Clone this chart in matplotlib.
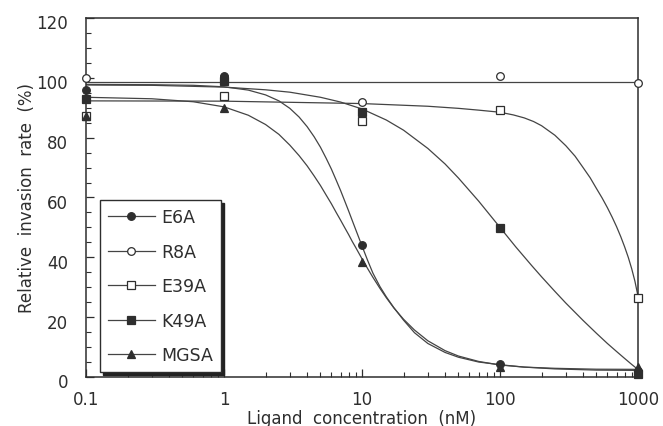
import matplotlib
matplotlib.use('Agg')
import matplotlib.pyplot as plt
import matplotlib.transforms as mtransforms
from matplotlib.lines import Line2D
from matplotlib.ticker import MultipleLocator, LogLocator, NullFormatter

plt.rcParams['font.family'] = ['DejaVu Sans']

# measured points
conc = [0.1, 1, 10, 100, 1000]
e6a = [96, 100.5, 44, 4.3, 2]
r8a = [100, 100.3, 92, 100.7, 98.3]
e39a = [87.3, 94, 85.6, 89.3, 26.4]
k49a = [93, 98.8, 88.6, 49.8, 1]
mgsa = [87.3, 90, 38.5, 3.3, 3.3]

# fitted curves
e6a_fit_x = [0.1, 0.3, 0.6, 1, 1.5, 2, 2.5, 3, 3.5, 4, 4.5, 5, 5.5, 6, 6.5, 7, 7.5, 8,
             8.5, 9, 10, 11, 12, 13.5, 15, 17, 20, 24, 30, 40, 50, 70, 100, 150, 250,
             500, 1000]
e6a_fit = [97.8, 97.7, 97.5, 97.0, 95.9, 94.3, 92.3, 89.8, 86.9, 83.7, 80.3, 76.8,
           73.1, 69.5, 65.8, 62.3, 58.8, 55.5, 52.3, 49.3, 43.8, 38.9, 34.7, 30.2,
           26.8, 23.2, 19.0, 14.8, 11.2, 8.2, 6.6, 5.0, 4.1, 3.3, 2.7, 2.3, 2.2]

mgsa_fit_x = e6a_fit_x
mgsa_fit = [93.5, 93.0, 92.0, 90.3, 87.5, 84.4, 81.1, 77.5, 74.0, 70.6, 67.2, 64.0,
            60.8, 57.9, 55.0, 52.4, 49.9, 47.6, 45.3, 43.3, 39.5, 36.2, 33.3, 29.6,
            26.5, 23.1, 19.3, 15.7, 12.1, 8.8, 7.0, 5.2, 4.0, 3.3, 2.9, 2.6, 2.55]

r8a_fit_x = [0.1, 1000]
r8a_fit = [98.5, 98.5]

e39a_fit_x = [0.1, 1, 10, 30, 50, 70, 100, 125, 150, 175, 200, 250, 300, 350, 400,
              450, 500, 550, 600, 650, 700, 750, 800, 850, 900, 950, 1000]
e39a_fit = [92.3, 92.2, 91.4, 90.5, 89.8, 89.2, 88.5, 87.6, 86.6, 85.4, 84.0, 80.8,
            77.3, 73.8, 70.0, 66.6, 63.0, 59.8, 56.6, 53.4, 50.2, 46.9, 43.5, 40.0,
            36.2, 32.0, 27.0]

k49a_fit_x = [0.1, 0.3, 1, 2, 3, 5, 7, 10, 15, 20, 30, 40, 50, 70, 100, 130, 170,
              200, 250, 300, 400, 500, 600, 700, 800, 900, 1000]
k49a_fit = [97.6, 97.5, 96.9, 96.0, 95.2, 93.5, 91.9, 89.6, 85.9, 82.5, 76.4, 71.2,
            66.5, 58.8, 50.0, 43.5, 37.2, 33.5, 28.6, 24.7, 18.9, 14.6, 11.2, 8.5,
            6.2, 4.2, 2.5]

xtick_vals = [0.1, 1, 10, 100, 1000]
xtick_labels = ['0.1', '1', '10', '100', '1000']

ink = '#2e2e2e'
series = [
    ('E39A', e39a, e39a_fit_x, e39a_fit, 's', 'white'),
    ('R8A', r8a, r8a_fit_x, r8a_fit, 'o', 'white'),
    ('K49A', k49a, k49a_fit_x, k49a_fit, 's', ink),
    ('E6A', e6a, e6a_fit_x, e6a_fit, 'o', ink),
    ('MGSA', mgsa, mgsa_fit_x, mgsa_fit, '^', ink),
]
legend_order = ['E6A', 'R8A', 'E39A', 'K49A', 'MGSA']

fig = plt.figure(figsize=(6.63, 4.27), dpi=100)
ax = fig.add_axes([0.1297, 0.1148, 0.8326, 0.8407])

for name, pts, fx, fy, mk, fc in series:
    ax.plot(fx, fy, color='#444444', lw=0.9, zorder=2)
for name, pts, fx, fy, mk, fc in series:
    ax.plot(conc, pts, ls='none', marker=mk, ms=5.5, mfc=fc, mec=ink, mew=0.9,
            zorder=3, clip_on=False)

ax.set_xscale('log')
ax.set_xlim(0.1, 1000)
ax.set_ylim(0, 120)
ax.set_xticks(xtick_vals)
ax.set_xticklabels(xtick_labels)
ax.xaxis.set_minor_locator(LogLocator(base=10, subs=range(2, 10)))
ax.xaxis.set_minor_formatter(NullFormatter())
ax.yaxis.set_major_locator(MultipleLocator(20))
ax.yaxis.set_minor_locator(MultipleLocator(5))

ax.tick_params(axis='both', which='both', direction='in', colors=ink,
               top=False, right=False, labelsize=12)
ax.tick_params(axis='x', which='major', length=6, width=0.9, pad=9.5)
ax.tick_params(axis='x', which='minor', length=3.5, width=0.8)
ax.tick_params(axis='y', which='major', length=6, width=0.9, pad=13)
ax.tick_params(axis='y', which='minor', length=3.5, width=0.8)
for lab in ax.get_yticklabels():
    lab.set_transform(lab.get_transform() +
                      mtransforms.ScaledTranslation(0, -2.5 / 72, fig.dpi_scale_trans))

for sp in ax.spines.values():
    sp.set_color(ink)
    sp.set_linewidth(1.1)

ax.set_xlabel('Ligand  concentration  (nM)', fontsize=12, color=ink, labelpad=0.5)
ax.set_ylabel('Relative  invasion  rate  (%)', fontsize=12, color=ink, labelpad=0)

styles = {s[0]: (s[4], s[5]) for s in series}
handles = [Line2D([], [], color='#444444', lw=0.9, marker=styles[n][0], ms=5.5,
                  mfc=styles[n][1], mec=ink, mew=0.9) for n in legend_order]
leg = ax.legend(handles, legend_order, loc='lower left', bbox_to_anchor=(0.0254, 0.014),
                borderaxespad=0, fontsize=12.5, frameon=True, fancybox=False,
                framealpha=1, edgecolor=ink, handlelength=2.7, handletextpad=0.4,
                labelspacing=0.95, borderpad=0.45,
                shadow={'color': '#222222', 'alpha': 1})
leg.get_frame().set_linewidth(1.0)
for t in leg.get_texts():
    t.set_color(ink)

fig.savefig('out.png', dpi=100)
